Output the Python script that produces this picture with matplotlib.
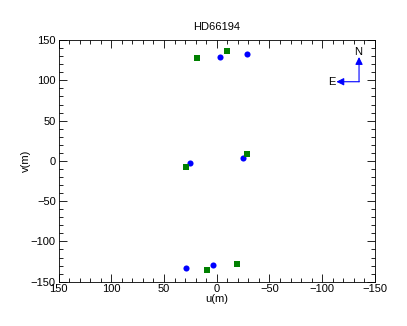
import matplotlib
matplotlib.use("Agg")
import matplotlib.pyplot as plt
from matplotlib.ticker import MultipleLocator

# uv coverage, baseline 1 (blue circles)
u_blue = [-3.5, -28.8, 25.0, 3.5, 28.8, -25.0]
v_blue = [129.4, 132.6, -3.1, -129.4, -132.6, 3.1]

# baseline 2 (green squares)
u_green = [19.0, -9.6, 28.8, -19.0, 9.6, -28.8]
v_green = [127.8, 136.0, -8.1, -127.8, -136.0, 8.1]

plt.rcParams['font.family'] = ['Liberation Sans', 'DejaVu Sans']

fig = plt.figure(figsize=(4.07, 3.26), dpi=100)
ax = fig.add_axes([0.144, 0.136, 0.777, 0.741])

ax.plot(u_blue, v_blue, 'o', color='#0000ff', markersize=4.4, markeredgewidth=0)
ax.plot(u_green, v_green, 's', color='#008000', markersize=4.0, markeredgewidth=0)

# compass
arrow = dict(arrowstyle='-|>', color='#0000ff', lw=0.8,
             mutation_scale=11, shrinkA=0, shrinkB=0)
ax.annotate('', xy=(-135, 129), xytext=(-135, 98.3), arrowprops=arrow)
ax.annotate('', xy=(-113.5, 98.3), xytext=(-135.2, 98.3), arrowprops=arrow)
ax.text(-134.5, 135, 'N', fontsize=8, ha='center', va='center')
ax.text(-109.5, 97.5, 'E', fontsize=8, ha='center', va='center')

ax.set_xlim(150, -150)
ax.set_ylim(-150, 150)
ax.xaxis.set_major_locator(MultipleLocator(50))
ax.yaxis.set_major_locator(MultipleLocator(50))
ax.xaxis.set_minor_locator(MultipleLocator(10))
ax.yaxis.set_minor_locator(MultipleLocator(10))
ax.tick_params(which='both', direction='in', top=True, right=True,
               labelsize=8, width=0.6, pad=2)
ax.tick_params(which='major', length=5.5)
ax.tick_params(which='minor', length=2.8)
for s in ax.spines.values():
    s.set_linewidth(0.6)

ax.set_xlabel('u(m)', fontsize=8, labelpad=0)
ax.set_ylabel('v(m)', fontsize=8, labelpad=0)
ax.set_title('HD66194', fontsize=8, pad=7)

fig.savefig('out.png', dpi=100)
